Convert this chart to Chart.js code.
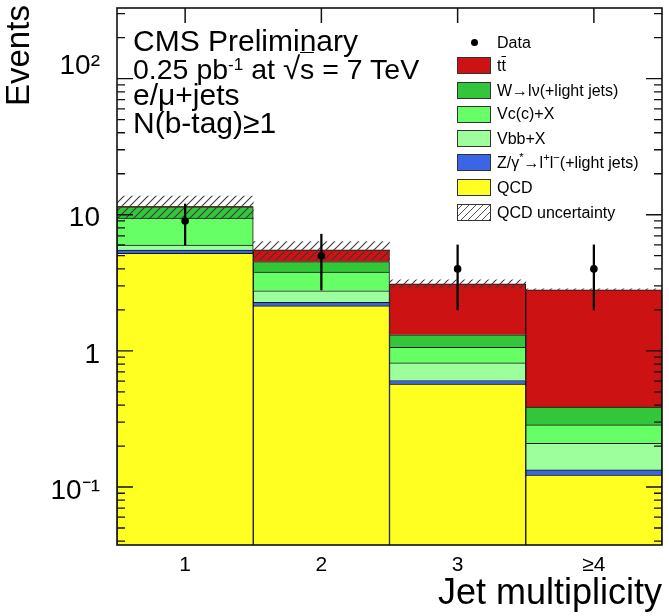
<!DOCTYPE html>
<html><head><meta charset="utf-8">
<script src="https://cdn.jsdelivr.net/npm/chart.js@4.4.1/dist/chart.umd.min.js"></script>
<style>
html,body{margin:0;padding:0;background:#fff;}
#wrap{position:relative;width:669px;height:616px;font-family:"Liberation Sans",Arial,Helvetica,sans-serif;color:#000;overflow:hidden;}
canvas{position:absolute;left:0;top:0;}
.t{position:absolute;left:133px;white-space:nowrap;line-height:1;font-size:30px;}
.row{position:absolute;left:457px;height:24px;display:flex;align-items:center;white-space:nowrap;font-size:16px;line-height:1;}
.box{width:32px;height:15px;border:1px solid #333;margin-right:6px;box-sizing:content-box;}
.dotbox{width:34px;height:15px;margin-right:6px;display:flex;align-items:center;justify-content:center;}
.dot{width:7px;height:7px;border-radius:50%;background:#000;}
.ov{text-decoration:overline;}
#ytitle{position:absolute;left:1px;top:106px;font-size:33px;line-height:1;white-space:nowrap;transform-origin:0 0;transform:rotate(-90deg);}
</style></head><body>
<div id="wrap">
<canvas id="c" width="669" height="616"></canvas>
<div id="ytitle">Events</div>
<div class="t" style="top:25.5px">CMS Preliminary</div>
<div class="t" style="top:53px;font-size:28.5px">0.25 pb<span style="position:relative;top:-0.5em;font-size:0.6em">-1</span> at <span style="font-size:1.1em">&#8730;</span><span style="border-top:1.5px solid #000;">s</span> = 7 TeV</div>
<div class="t" style="top:79.5px">e/&#956;+jets</div>
<div class="t" style="top:107.5px">N(b-tag)&#8805;1</div>
<div class="row" style="top:30.7px"><div class="dotbox"><div class="dot"></div></div>Data</div>
<div class="row" style="top:53.5px"><div class="box" style="background:#cc1212"></div>t<span class="ov">t</span></div>
<div class="row" style="top:78.5px"><div class="box" style="background:#33c63a"></div>W&#8594;l&#957;(+light jets)</div>
<div class="row" style="top:102px"><div class="box" style="background:#66ff66"></div>Vc(c)+X</div>
<div class="row" style="top:126.5px"><div class="box" style="background:#9cff9c"></div>Vbb+X</div>
<div class="row" style="top:150.5px"><div class="box" style="background:#3a66e6"></div>Z/&#947;<span style="position:relative;top:-0.4em;font-size:0.7em">*</span>&#8594;l<span style="position:relative;top:-0.4em;font-size:0.7em">+</span>l<span style="position:relative;top:-0.4em;font-size:0.7em">&#8722;</span>(+light jets)</div>
<div class="row" style="top:175.5px"><div class="box" style="background:#ffff22"></div>QCD</div>
<div class="row" style="top:200.5px"><div class="box" style="background:repeating-linear-gradient(-45deg,#555 0 1px,#fff 1px 5px)"></div>QCD uncertainty</div>
</div>
<script>
// ---- data ----
const categories = ['1', '2', '3', '\u22654'];
const qcd   = [5.2, 2.14, 0.57, 0.1225];
const zjets = [0.30, 0.13, 0.036, 0.011];
const vbb   = [0.49, 0.49, 0.21, 0.076];
const vcc   = [3.44, 1.03, 0.245, 0.0765];
const wjets = [2.0, 0.74, 0.25, 0.10];
const ttbar = [0.10, 1.0, 1.8, 2.42];
const qcdUnc = [2.2, 0.83, 0.22, 0.05];
const dataCounts  = [9, 5, 4, 4];
const dataErrLow  = [6.0, 2.8, 2.0, 2.0];
const dataErrHigh = [12.0, 7.2, 6.0, 6.0];
const yTickValues = [0.1, 1, 10, 100];
const yTickLabels = ['10\u207B\u00B9', '1', '10', ['10\u00B2', '']];
const yMin = 0.0375, yMax = 330;

const FONT = '"Liberation Sans", Arial, Helvetica, sans-serif';
const canvas = document.getElementById('c');
const ctx0 = canvas.getContext('2d');

function makeHatch() {
  const s = 8, c = document.createElement('canvas');
  c.width = s; c.height = s;
  const g = c.getContext('2d');
  g.strokeStyle = '#3a3a3a'; g.lineWidth = 1.1;
  g.beginPath();
  g.moveTo(0, s); g.lineTo(s, 0);
  g.moveTo(-2, 2); g.lineTo(2, -2);
  g.moveTo(s - 2, s + 2); g.lineTo(s + 2, s - 2);
  g.stroke();
  return ctx0.createPattern(c, 'repeat');
}

const stackSeries = [
  {label: 'QCD', data: qcd, color: '#ffff22'},
  {label: 'Z', data: zjets, color: '#3a66e6'},
  {label: 'Vbb+X', data: vbb, color: '#9cff9c'},
  {label: 'Vc(c)+X', data: vcc, color: '#66ff66'},
  {label: 'W', data: wjets, color: '#33c63a'},
  {label: 'ttbar', data: ttbar, color: '#cc1212'}
];

const totals = categories.map((_, i) => stackSeries.reduce((s, d) => s + d.data[i], 0));
const uncBand = categories.map((_, i) => [totals[i] - qcdUnc[i], totals[i] + qcdUnc[i]]);
const errBars = categories.map((_, i) => [dataErrLow[i], dataErrHigh[i]]);

const datasets = stackSeries.map(s => ({
  type: 'bar', label: s.label, data: s.data,
  backgroundColor: s.color, borderColor: '#151515', borderWidth: 1,
  xAxisID: 'x', yAxisID: 'y', stack: 'mc', grouped: false, order: 0
}));
datasets.push({
  type: 'bar', label: 'QCD uncertainty', data: uncBand,
  backgroundColor: makeHatch(), borderWidth: 0,
  xAxisID: 'x2', yAxisID: 'y2', stack: 'mc', grouped: false, order: -1
});
datasets.push({
  type: 'bar', label: 'Data error', data: errBars,
  backgroundColor: '#000', borderWidth: 0, maxBarThickness: 1.6,
  xAxisID: 'x2', yAxisID: 'y2', stack: 'mc', grouped: false, order: -2
});
datasets.push({
  type: 'line', label: 'Data', data: dataCounts, showLine: false,
  pointRadius: 3.8, pointBackgroundColor: '#000', pointBorderColor: '#000', pointBorderWidth: 0,
  xAxisID: 'x2', yAxisID: 'y2', order: -3
});

const framePlugin = {
  id: 'frame',
  beforeDatasetsDraw(chart) {
    const {ctx, chartArea: a, scales: {x}} = chart;
    ctx.save();
    ctx.strokeStyle = '#111'; ctx.lineWidth = 1.5;
    ctx.beginPath();
    categories.forEach((c, i) => {
      const px = x.getPixelForValue(i);
      ctx.moveTo(px, a.top); ctx.lineTo(px, a.top + 15);
      ctx.moveTo(px, a.bottom); ctx.lineTo(px, a.bottom - 15);
    });
    ctx.stroke();
    ctx.restore();
  },
  afterDatasetsDraw(chart) {
    const {ctx, chartArea: a, scales: {y}} = chart;
    ctx.save();
    ctx.strokeStyle = '#111'; ctx.lineWidth = 1.3;
    ctx.beginPath();
    const e0 = Math.floor(Math.log10(y.min)), e1 = Math.ceil(Math.log10(y.max));
    for (let e = e0; e <= e1; e++) {
      for (let k = 1; k <= 9; k++) {
        const v = k * Math.pow(10, e);
        if (v < y.min || v > y.max) continue;
        const py = y.getPixelForValue(v);
        const len = k === 1 ? 16 : 8;
        ctx.moveTo(a.left, py); ctx.lineTo(a.left + len, py);
        ctx.moveTo(a.right, py); ctx.lineTo(a.right - len, py);
      }
    }
    ctx.stroke();
    ctx.lineWidth = 1.6;
    ctx.strokeRect(a.left, a.top, a.right - a.left, a.bottom - a.top);
    ctx.restore();
  }
};

new Chart(canvas, {
  type: 'bar',
  data: {labels: categories, datasets},
  options: {
    responsive: false, animation: false, events: [],
    layout: {padding: {top: 8, right: 7, left: 0, bottom: 0}},
    plugins: {legend: {display: false}, tooltip: {enabled: false}},
    datasets: {bar: {categoryPercentage: 1, barPercentage: 1}},
    scales: {
      x: {
        type: 'category', offset: true, stacked: true,
        grid: {display: false}, border: {display: false},
        ticks: {color: '#000', font: {family: FONT, size: 21}, padding: 0, maxRotation: 0},
        title: {display: true, text: 'Jet multiplicity', align: 'end', color: '#000',
                font: {family: FONT, size: 36}, padding: {top: 0, bottom: 0}},
        afterFit(s) { s.height = 71; s.paddingLeft = 0; s.paddingRight = 0; }
      },
      y: {
        type: 'logarithmic', stacked: true, min: yMin, max: yMax,
        grid: {display: false}, border: {display: false},
        afterBuildTicks(s) { s.ticks = yTickValues.map(v => ({value: v})); },
        ticks: {color: '#000', autoSkip: false, font: {family: FONT, size: 28}, padding: 9,
                labelOffset: 4, callback: (v, i) => yTickLabels[i]},
        title: {display: false},
        afterFit(s) { s.width = 117; s.paddingTop = 0; s.paddingBottom = 0; }
      },
      x2: {type: 'category', offset: true, display: false, labels: categories, grid: {display: false}},
      y2: {type: 'logarithmic', min: yMin, max: yMax, display: false, stacked: false}
    }
  },
  plugins: [framePlugin]
});
</script>
</body></html>
